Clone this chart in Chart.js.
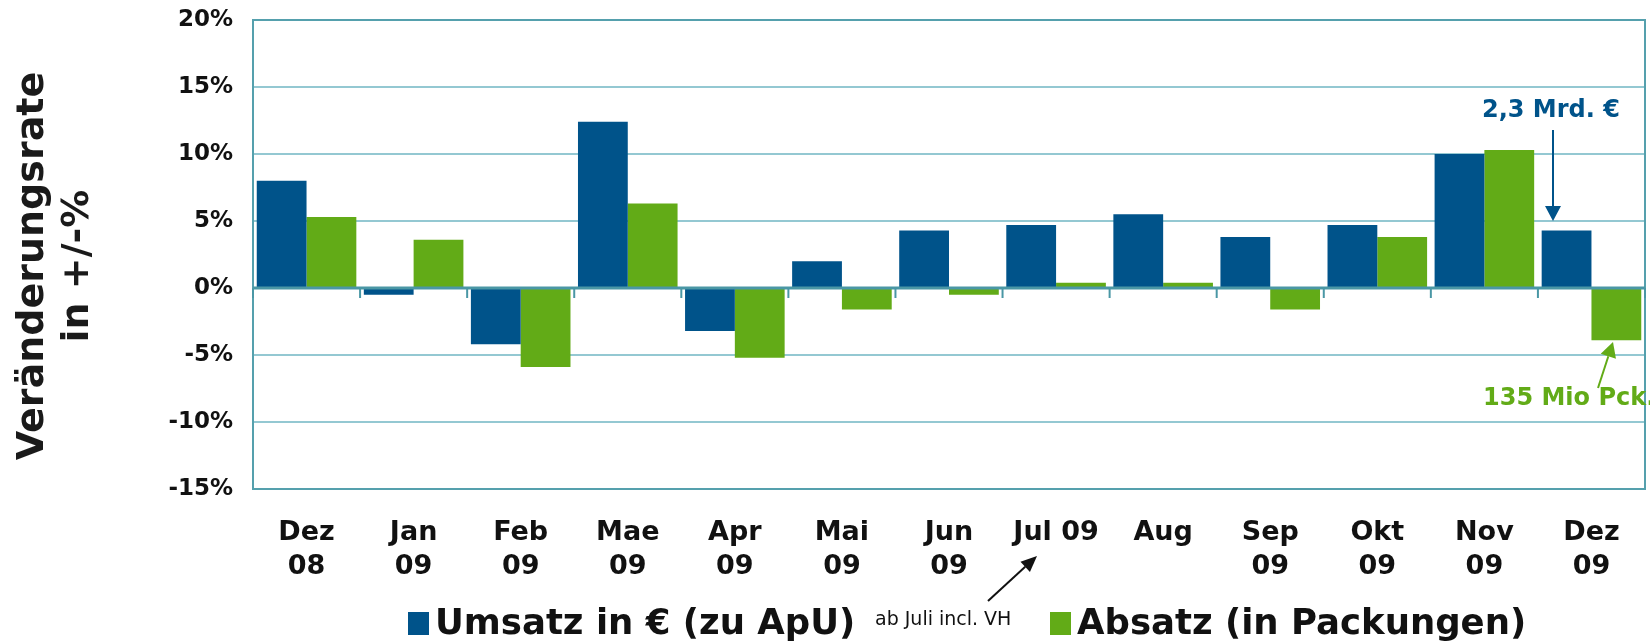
<!DOCTYPE html>
<html>
<head>
<meta charset="utf-8">
<script src="https://cdn.jsdelivr.net/npm/chart.js@4.4.0/dist/chart.umd.min.js"></script>
<style>
  html, body { margin: 0; padding: 0; background: #fff; }
  #wrap { width: 1650px; height: 643px; position: relative; }
</style>
</head>
<body>
<div id="wrap"><canvas id="mainChart" width="1650" height="643"></canvas></div>
<script>
const months = [['Dez', '08'], ['Jan', '09'], ['Feb', '09'], ['Mae', '09'], ['Apr', '09'], ['Mai', '09'],
  ['Jun', '09'], 'Jul 09', 'Aug', ['Sep', '09'], ['Okt', '09'], ['Nov', '09'], ['Dez', '09']];
const umsatz = [8.0, -0.5, -4.2, 12.4, -3.2, 2.0, 4.3, 4.7, 5.5, 3.8, 4.7, 10.0, 4.3];
const absatz = [5.3, 3.6, -5.9, 6.3, -5.2, -1.6, -0.5, 0.4, 0.4, -1.6, 3.8, 10.3, -3.9];
const yTicks = [-15, -10, -5, 0, 5, 10, 15, 20];

const BLUE = '#00538a';
const GREEN = '#62ab17';
const TEAL = '#55a0ad';
const GRID = '#94c8d2';
const FONT = '"DejaVu Sans", Verdana, sans-serif';

function arrow(ctx, x1, y1, x2, y2, color, w, head, half) {
  const a = Math.atan2(y2 - y1, x2 - x1);
  const bx = x2 - Math.cos(a) * head, by = y2 - Math.sin(a) * head;
  ctx.save();
  ctx.strokeStyle = color;
  ctx.fillStyle = color;
  ctx.lineWidth = w;
  ctx.beginPath();
  ctx.moveTo(x1, y1);
  ctx.lineTo(bx, by);
  ctx.stroke();
  ctx.beginPath();
  ctx.moveTo(x2, y2);
  ctx.lineTo(bx + Math.sin(a) * half, by - Math.cos(a) * half);
  ctx.lineTo(bx - Math.sin(a) * half, by + Math.cos(a) * half);
  ctx.closePath();
  ctx.fill();
  ctx.restore();
}

const decor = {
  id: 'decor',
  afterDatasetsDraw(chart) {
    const { ctx, chartArea: ca, scales } = chart;
    const y0 = scales.y.getPixelForValue(0);
    ctx.save();
    // frame
    ctx.strokeStyle = TEAL;
    ctx.lineWidth = 2;
    ctx.strokeRect(ca.left, ca.top, ca.right - ca.left, ca.bottom - ca.top);
    // zero line
    ctx.strokeStyle = '#4a97a5';
    ctx.lineWidth = 3;
    ctx.beginPath();
    ctx.moveTo(ca.left, y0);
    ctx.lineTo(ca.right, y0);
    ctx.stroke();
    // category ticks on zero line
    ctx.lineWidth = 2;
    for (let i = 0; i <= months.length; i++) {
      let x;
      if (i === 0) x = ca.left;
      else if (i === months.length) x = ca.right;
      else x = (scales.x.getPixelForValue(i - 1) + scales.x.getPixelForValue(i)) / 2;
      ctx.beginPath();
      ctx.moveTo(x, y0);
      ctx.lineTo(x, y0 + 10);
      ctx.stroke();
    }
    ctx.restore();
  },
  afterDraw(chart) {
    const { ctx } = chart;
    ctx.save();
    // y title
    ctx.fillStyle = '#1a1a1a';
    ctx.font = 'bold 38px ' + FONT;
    ctx.textAlign = 'center';
    ctx.textBaseline = 'middle';
    ctx.translate(33, 266);
    ctx.rotate(-Math.PI / 2);
    ctx.fillText('Veränderungsrate', 0, 0);
    ctx.fillText('in +/-%', 0, 45);
    ctx.restore();

    ctx.save();
    ctx.textBaseline = 'middle';
    ctx.textAlign = 'left';
    // annotations
    ctx.font = 'bold 24px ' + FONT;
    ctx.fillStyle = BLUE;
    ctx.fillText('2,3 Mrd. €', 1482, 111);
    arrow(ctx, 1553, 130, 1553, 221, BLUE, 2, 15, 8);
    ctx.fillStyle = GREEN;
    ctx.fillText('135 Mio Pck.', 1483, 399);
    arrow(ctx, 1598, 388, 1613, 342, GREEN, 2, 15, 8);
    arrow(ctx, 988, 601, 1037, 556, '#111', 2, 16, 7);

    // legend
    ctx.fillStyle = BLUE;
    ctx.fillRect(408, 612, 21, 23);
    ctx.fillStyle = GREEN;
    ctx.fillRect(1050, 612, 21, 23);
    ctx.fillStyle = '#111';
    ctx.font = 'bold 35.5px ' + FONT;
    ctx.fillText('Umsatz in € (zu ApU)', 435, 625);
    ctx.fillText('Absatz (in Packungen)', 1077, 625);
    ctx.font = '19px ' + FONT;
    ctx.fillText('ab Juli incl. VH', 875, 620);
    ctx.restore();
  }
};

new Chart(document.getElementById('mainChart').getContext('2d'), {
  type: 'bar',
  data: {
    labels: months,
    datasets: [
      { label: 'Umsatz in € (zu ApU)', data: umsatz, backgroundColor: BLUE },
      { label: 'Absatz (in Packungen)', data: absatz, backgroundColor: GREEN }
    ]
  },
  options: {
    responsive: false,
    animation: false,
    categoryPercentage: 0.93,
    barPercentage: 1.0,
    layout: { padding: { top: 20, right: 5, left: 0, bottom: 0 } },
    plugins: {
      legend: { display: false },
      tooltip: { enabled: false }
    },
    scales: {
      x: {
        grid: { display: false },
        border: { display: false },
        ticks: {
          color: '#111',
          font: { family: FONT, size: 27, weight: 'bold', lineHeight: 1.26 },
          padding: 19,
          maxRotation: 0,
          autoSkip: false
        },
        afterFit(scale) { scale.height = 154; }
      },
      y: {
        min: yTicks[0],
        max: yTicks[yTicks.length - 1],
        afterBuildTicks(scale) { scale.ticks = yTicks.map(v => ({ value: v })); },
        grid: { color: GRID, lineWidth: 2, drawTicks: false },
        border: { display: false },
        ticks: {
          color: '#111',
          font: { family: FONT, size: 23, weight: 'bold' },
          padding: 20,
          callback: v => v + '%'
        },
        afterFit(scale) {
          scale.width = 253;
          scale.paddingTop = 0;
          scale.paddingBottom = 0;
        }
      }
    }
  },
  plugins: [decor]
});
</script>
</body>
</html>
